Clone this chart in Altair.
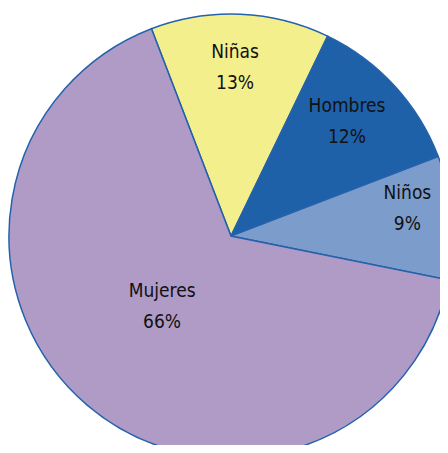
import math
import altair as alt
import pandas as pd

categories = ["Niñas", "Hombres", "Niños", "Mujeres"]
values = [13, 12, 9, 66]
pct_labels = ["13%", "12%", "9%", "66%"]
colors = ["#F4EF8D", "#1F61A8", "#7C9DCC", "#B09BC6"]

df = pd.DataFrame({
    "cat": categories,
    "val": values,
    "pct": pct_labels,
    "ord": list(range(len(categories))),
})

start = math.radians(-21)
theta_enc = alt.Theta("val:Q", stack=True,
                      scale=alt.Scale(range=[start, start + 2 * math.pi]))

base = alt.Chart(df).transform_calculate(
    lbl="datum.cat + '|' + datum.pct"
).encode(
    theta=theta_enc,
    order=alt.Order("ord:Q"),
)

arc = base.mark_arc(outerRadius=222, stroke="#2462AC", strokeWidth=1.5).encode(
    color=alt.Color("cat:N", scale=alt.Scale(domain=categories, range=colors), legend=None)
)

# label placement style per category: (radius, dx, dy)
label_style = {
    "Niñas": (169, -3, -15.5),
    "Hombres": (163, -4, -19.5),
    "Niños": (178, -1, -28.5),
    "Mujeres": (99, -5, -20.5),
}

layers = [arc]
for cat, (r, dx, dy) in label_style.items():
    layers.append(
        base.mark_text(
            radius=r, dx=dx, dy=dy, fontSize=19,
            font="DejaVu Sans Condensed, Liberation Sans",
            lineHeight=31, lineBreak="|", align="center", baseline="middle", color="#111111",
        ).encode(
            text=alt.condition(alt.datum.cat == cat, alt.Text("lbl:N"), alt.value(""))
        )
    )

chart = alt.layer(*layers).properties(
    width=418, height=418,
    padding={"left": 14, "top": 19, "right": 0, "bottom": 0},
    autosize="none",
    background="white",
).configure_view(stroke=None)

chart.save("out.html", embed_options={"renderer": "svg", "actions": False})
